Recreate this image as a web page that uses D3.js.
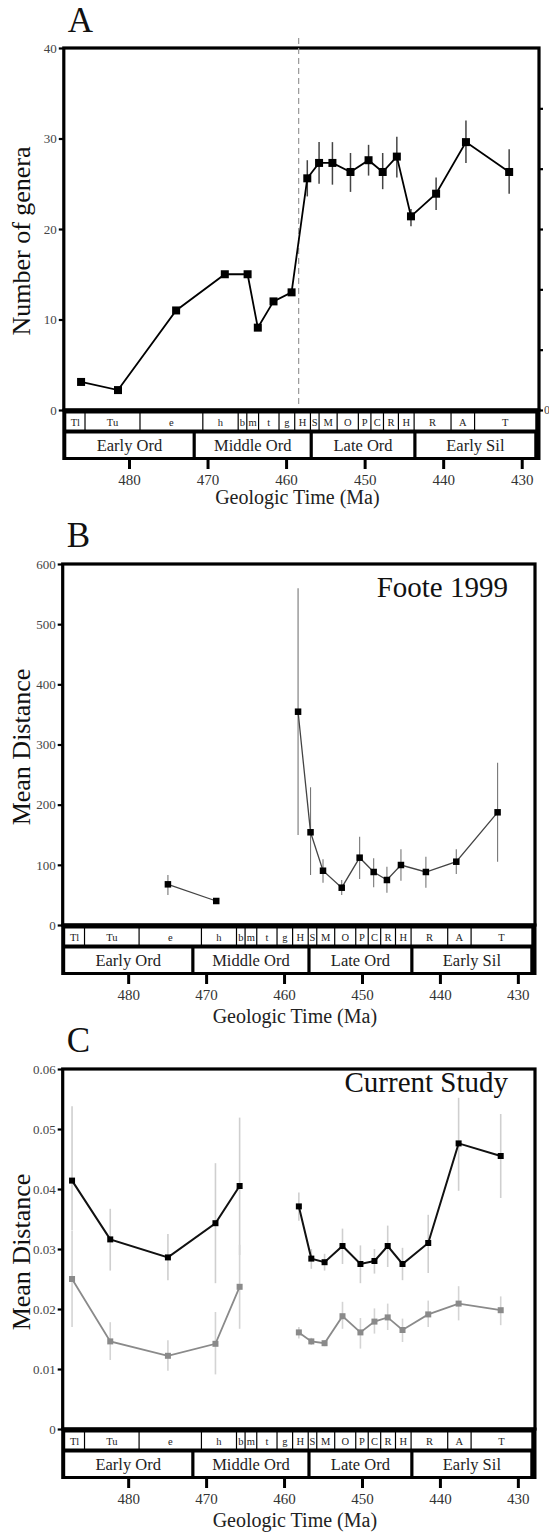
<!DOCTYPE html>
<html><head><meta charset="utf-8">
<script src="https://cdn.jsdelivr.net/npm/d3@7"></script>
<style>body{margin:0;background:#fff}svg{display:block}text{font-family:"Liberation Serif","Times New Roman",serif}</style>
</head><body><svg id="c" width="549" height="1533"></svg>
<script>
// ---------- data ----------
const stageBounds = [488.3, 485.6, 478.6, 470.6, 466.1, 465.0, 463.5, 460.9, 458.9, 456.9, 455.8, 453.5, 450.8, 449.2, 447.6, 445.7, 443.7, 439.0, 436.0, 428.2];
const stageLabels = ["Tl","Tu","e","h","b","m","t","g","H","S","M","O","P","C","R","H","R","A","T"];
const seriesBounds = [488.3, 471.7, 456.8, 443.6, 428.2];
const seriesLabels = ["Early Ord","Middle Ord","Late Ord","Early Sil"];
const timeTicks = [480, 470, 460, 450, 440, 430];

// Panel A: number of genera
const aAge = [486.1, 481.4, 474.0, 467.8, 464.9, 463.6, 461.6, 459.3, 457.3, 455.8, 454.1, 451.8, 449.5, 447.7, 445.9, 444.1, 440.9, 437.1, 431.6];
const aVal = [3.1, 2.2, 11.0, 15.0, 15.0, 9.1, 12.0, 13.0, 25.6, 27.3, 27.3, 26.3, 27.6, 26.3, 28.0, 21.4, 23.9, 29.6, 26.3];
const aLo  = [null, null, null, null, null, null, null, null, 23.6, 25.0, 24.9, 24.1, 25.9, 24.4, 25.7, 20.3, 22.1, 27.3, 23.9];
const aHi  = [null, null, null, null, null, null, null, null, 27.6, 29.6, 29.6, 28.4, 29.3, 28.4, 30.2, 22.2, 25.7, 32.0, 28.8];
const aTicks = [0, 10, 20, 30, 40];
const aTickLabels = ["0", "10", "20", "30", "40"];
const aDashAge = 458.4;
const aRightTicks = [0, 1, 2, 3, 4, 5];

// Panel B: Foote 1999
const bAge = [474.9, 468.7, 458.2, 456.6, 455.0, 452.6, 450.3, 448.5, 446.8, 445.0, 441.8, 437.9, 432.6];
const bVal = [67.6, 39.9, 354.5, 154.1, 90.2, 62.0, 111.9, 88.1, 74.8, 99.7, 88.1, 105.2, 187.3];
const bLo  = [49.9, null, 149.6, 83.1, 70.3, 49.9, 76.4, 62.7, 53.7, 73.6, 62.0, 84.8, 105.2];
const bHi  = [83.1, null, 559.6, 228.9, 109.2, 74.8, 146.8, 110.9, 96.9, 125.8, 113.5, 125.8, 269.7];
const bGroup = [0, 0, 1, 1, 1, 1, 1, 1, 1, 1, 1, 1, 1];
const bTicks = [0, 100, 200, 300, 400, 500, 600];
const bTickLabels = ["0", "100", "200", "300", "400", "500", "600"];

// Panel C: current study
const cAge = [487.2, 482.3, 474.9, 468.8, 465.7, 458.1, 456.5, 454.8, 452.5, 450.2, 448.4, 446.7, 444.8, 441.5, 437.6, 432.2];
const cGroup = [0, 0, 0, 0, 0, 1, 1, 1, 1, 1, 1, 1, 1, 1, 1, 1];
const cBlack   = [0.0414, 0.0316, 0.0286, 0.0343, 0.0405, 0.0371, 0.0284, 0.0278, 0.0305, 0.0275, 0.0280, 0.0305, 0.0275, 0.0310, 0.0476, 0.0455];
const cBlackLo = [0.0331, 0.0264, 0.0248, 0.0243, 0.0290, 0.0347, 0.0267, 0.0264, 0.0275, 0.0243, 0.0259, 0.0270, 0.0248, 0.0260, 0.0397, 0.0385];
const cBlackHi = [0.0538, 0.0367, 0.0325, 0.0443, 0.0519, 0.0394, 0.0300, 0.0292, 0.0334, 0.0306, 0.0300, 0.0339, 0.0302, 0.0357, 0.0552, 0.0525];
const cGray    = [0.0250, 0.0146, 0.0122, 0.0142, 0.0237, 0.0161, 0.0146, 0.0143, 0.0188, 0.0161, 0.0179, 0.0186, 0.0165, 0.0191, 0.0209, 0.0198];
const cGrayLo  = [0.0170, 0.0115, 0.0097, 0.0091, 0.0167, 0.0151, 0.0140, 0.0138, 0.0167, 0.0134, 0.0159, 0.0165, 0.0145, 0.0170, 0.0181, 0.0173];
const cGrayHi  = [0.0330, 0.0178, 0.0148, 0.0195, 0.0307, 0.0170, 0.0152, 0.0148, 0.0212, 0.0185, 0.0201, 0.0209, 0.0184, 0.0214, 0.0238, 0.0221];
const cTicks = [0, 0.01, 0.02, 0.03, 0.04, 0.05, 0.06];
const cTickLabels = ["0", "0.01", "0.02", "0.03", "0.04", "0.05", "0.06"];

// ---------- drawing ----------
const svg = d3.select("#c");

function panel(cfg) {
  const g = svg.append("g");
  const x = d3.scaleLinear().domain(cfg.xDomain).range([cfg.x0, cfg.x1]);
  const y = d3.scaleLinear().domain(cfg.yDomain).range([cfg.yBot, cfg.yTop]);

  g.append("text").attr("x", cfg.x0 + 4).attr("y", cfg.letterY)
    .attr("font-size", 35).attr("fill", "#111").text(cfg.letter);

  g.append("text").attr("transform", `translate(30,${cfg.yTitleY}) rotate(-90)`)
    .attr("text-anchor", "middle").attr("font-size", 26).attr("fill", "#111").text(cfg.yTitle);

  // timescale
  const ts = g.append("g");
  const tb = cfg.yBot;
  ts.append("rect").attr("x", cfg.x0 - 1.5).attr("y", tb - 1.5)
    .attr("width", cfg.x1 - cfg.x0 + 3).attr("height", 51.5).attr("fill", "#000");
  const clipL = cfg.x0 + 2.5, clipR = cfg.x1 - 2.5;
  const stages = stageLabels.map((l, i) => ({l, a: stageBounds[i], b: stageBounds[i + 1]}));
  stages.forEach(s => {
    const xa = Math.max(clipL, x(s.a) + 0.6), xb = Math.min(clipR, x(s.b) - 0.6);
    ts.append("rect").attr("x", xa).attr("y", tb + 3.5).attr("width", Math.max(0, xb - xa)).attr("height", 16).attr("fill", "#fff");
    ts.append("text").attr("x", (xa + xb) / 2).attr("y", tb + 15.5).attr("text-anchor", "middle")
      .attr("font-size", 10.5).attr("fill", "#222").text(s.l);
  });
  const series = seriesLabels.map((l, i) => ({l, a: seriesBounds[i], b: seriesBounds[i + 1]}));
  series.forEach(s => {
    const xa = Math.max(clipL, x(s.a) + 1.6), xb = Math.min(clipR, x(s.b) - 1.6);
    ts.append("rect").attr("x", xa).attr("y", tb + 23.5).attr("width", xb - xa).attr("height", 23.5).attr("fill", "#fff");
    ts.append("text").attr("x", (xa + xb) / 2).attr("y", tb + 41).attr("text-anchor", "middle")
      .attr("font-size", 16.5).attr("fill", "#222").text(s.l);
  });
  const xAxis = d3.axisBottom(x).tickValues(timeTicks).tickSize(9).tickPadding(5).tickFormat(d3.format("d"));
  const xa = g.append("g").attr("transform", `translate(0,${tb + 50})`).call(xAxis);
  xa.select(".domain").remove();
  xa.selectAll(".tick line").attr("stroke", "#000").attr("stroke-width", 3);
  xa.selectAll(".tick text").attr("font-size", 15).attr("fill", "#333");
  g.append("text").attr("x", (cfg.x0 + cfg.x1) / 2 - 4).attr("y", tb + cfg.titleOff)
    .attr("text-anchor", "middle").attr("font-size", 20).attr("fill", "#222").text("Geologic Time (Ma)");

  const yAxis = d3.axisLeft(y).tickValues(cfg.yTicks).tickSize(5).tickPadding(2)
    .tickFormat((d, i) => cfg.yTickLabels[i]);
  const ya = g.append("g").attr("transform", `translate(${cfg.x0},0)`).call(yAxis);
  ya.select(".domain").remove();
  ya.selectAll(".tick line").attr("stroke", "#000").attr("stroke-width", 2.2);
  ya.selectAll(".tick text").attr("font-size", 13).attr("fill", "#444");

  g.append("rect").attr("x", cfg.x0).attr("y", cfg.yTop).attr("width", cfg.x1 - cfg.x0)
    .attr("height", cfg.yBot - cfg.yTop).attr("fill", "none").attr("stroke", "#000").attr("stroke-width", 3.2);

  return {g, x, y};
}

function series(p, age, val, lo, hi, group, st) {
  const pts = age.map((a, i) => ({a, v: val[i], lo: lo[i], hi: hi[i], grp: group ? group[i] : 0}));
  p.g.append("g").selectAll("line").data(pts.filter(d => d.lo != null)).join("line")
    .attr("x1", d => p.x(d.a)).attr("x2", d => p.x(d.a))
    .attr("y1", d => p.y(d.lo)).attr("y2", d => p.y(d.hi))
    .attr("stroke", st.err).attr("stroke-width", st.errW);
  const groups = d3.groups(pts, d => d.grp);
  const line = d3.line().x(d => p.x(d.a)).y(d => p.y(d.v));
  groups.forEach(([k, arr]) => {
    p.g.append("path").attr("d", line(arr)).attr("fill", "none")
      .attr("stroke", st.line).attr("stroke-width", st.lineW).attr("stroke-linejoin", "miter");
  });
  p.g.append("g").selectAll("rect").data(pts).join("rect")
    .attr("x", d => p.x(d.a) - st.m / 2).attr("y", d => p.y(d.v) - st.m / 2)
    .attr("width", st.m).attr("height", st.m).attr("fill", st.mark);
}

// Panel A
const pA = panel({letter: "A", letterY: 32, x0: 63.8, x1: 539, yTop: 48, yBot: 410,
  xDomain: [488.3, 427.8], yDomain: [0, 40], yTicks: aTicks, yTickLabels: aTickLabels,
  yTitle: "Number of genera", yTitleY: 241, titleOff: 94});
pA.g.append("line").attr("x1", pA.x(aDashAge)).attr("x2", pA.x(aDashAge)).attr("y1", 38).attr("y2", 408)
  .attr("stroke", "#999").attr("stroke-width", 1.2).attr("stroke-dasharray", "6,4");
const yR = d3.scaleLinear().domain([0, 6]).range([410, 48]);
const ra = pA.g.append("g").attr("transform", "translate(539,0)")
  .call(d3.axisRight(yR).tickValues(aRightTicks).tickSize(4).tickPadding(1).tickFormat(d => d === 0 ? "0" : ""));
ra.select(".domain").remove();
ra.selectAll(".tick line").attr("stroke", "#000").attr("stroke-width", 2.2);
ra.selectAll(".tick text").attr("font-size", 12).attr("fill", "#444");
series(pA, aAge, aVal, aLo, aHi, null, {err: "#444", errW: 1.5, line: "#000", lineW: 1.8, m: 8, mark: "#000"});

// Panel B
const pB = panel({letter: "B", letterY: 547, x0: 62.7, x1: 535, yTop: 564, yBot: 925,
  xDomain: [488.4, 427.8], yDomain: [0, 600], yTicks: bTicks, yTickLabels: bTickLabels,
  yTitle: "Mean Distance", yTitleY: 747, titleOff: 98});
pB.g.append("text").attr("x", 508).attr("y", 597).attr("text-anchor", "end")
  .attr("font-size", 29).attr("fill", "#111").text("Foote 1999");
series(pB, bAge, bVal, bLo, bHi, bGroup, {err: "#777", errW: 1.1, line: "#444", lineW: 1.3, m: 6.5, mark: "#000"});

// Panel C
const pC = panel({letter: "C", letterY: 1052, x0: 62.7, x1: 535, yTop: 1069, yBot: 1429,
  xDomain: [488.4, 427.8], yDomain: [0, 0.06], yTicks: cTicks, yTickLabels: cTickLabels,
  yTitle: "Mean Distance", yTitleY: 1252, titleOff: 98});
pC.g.append("text").attr("x", 508).attr("y", 1092).attr("text-anchor", "end")
  .attr("font-size", 29).attr("fill", "#111").text("Current Study");
series(pC, cAge, cBlack, cBlackLo, cBlackHi, cGroup, {err: "#cfcfcf", errW: 1.6, line: "#111", lineW: 2, m: 6, mark: "#000"});
series(pC, cAge, cGray, cGrayLo, cGrayHi, cGroup, {err: "#d4d4d4", errW: 1.6, line: "#8a8a8a", lineW: 1.8, m: 6, mark: "#8a8a8a"});
</script>
</body></html>
